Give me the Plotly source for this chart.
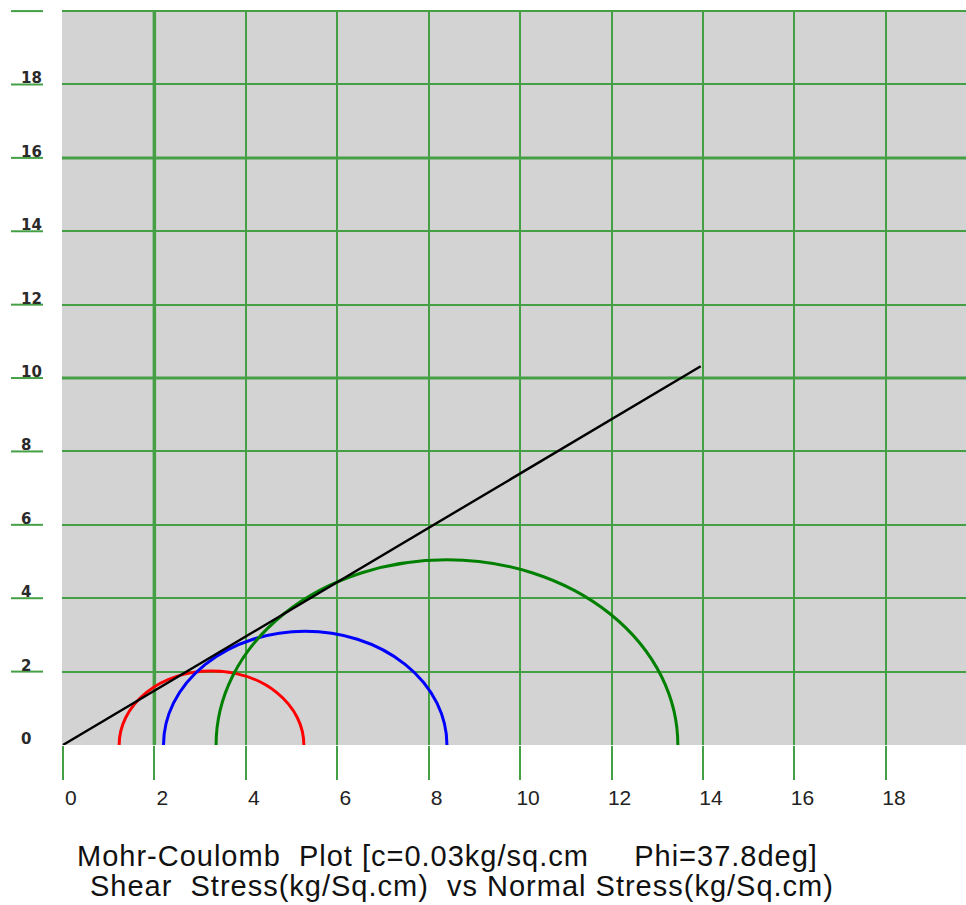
import plotly.graph_objects as go

# ---- data ----
circle_names = ["red", "blue", "green"]
circle_centers = [3.25, 5.3, 8.4]
circle_radii = [2.02, 3.1, 5.05]
circle_colors = ["#ff0000", "#0000ff", "#008000"]

envelope_x = [0, 13.95]
envelope_y = [0, 10.32]

x_ticks = [0, 2, 4, 6, 8, 10, 12, 14, 16, 18]
y_ticks = [0, 2, 4, 6, 8, 10, 12, 14, 16, 18]
y_grid = [2, 4, 6, 8, 10, 12, 14, 16, 18, 20]
y_dashes = [2, 4, 6, 8, 10, 12, 14, 16, 18, 20]
thick_x = [2]
thick_y = [10, 16]

title_line1 = "Mohr-Coulomb&nbsp;&nbsp;Plot [c=0.03kg/sq.cm&nbsp;&nbsp;&nbsp;&nbsp;&nbsp;Phi=37.8deg]"
title_line2 = "Shear&nbsp;&nbsp;Stress(kg/Sq.cm)&nbsp;&nbsp;vs Normal&nbsp;Stress(kg/Sq.cm)"

GRID = "#45a045"
W, H = 966, 905
ML, MR, MT, MB = 62, 0, 10, 160
PW = W - ML - MR
PH = H - MT - MB

fig = go.Figure()

fig.add_trace(go.Scatter(x=envelope_x, y=envelope_y, mode="lines",
                         line=dict(color="black", width=2.4), showlegend=False,
                         hoverinfo="skip"))

shapes = []
for xv in thick_x:
    shapes.append(dict(type="line", xref="x", yref="paper", x0=xv, x1=xv,
                       y0=0, y1=1, line=dict(color=GRID, width=3.5), layer="below"))
for yv in thick_y:
    shapes.append(dict(type="line", xref="paper", yref="y", x0=0, x1=1,
                       y0=yv, y1=yv, line=dict(color=GRID, width=3), layer="below"))

for c, r, col in zip(circle_centers, circle_radii, circle_colors):
    shapes.append(dict(type="circle", xref="x", yref="y",
                       x0=c - r, x1=c + r, y0=-r, y1=r,
                       line=dict(color=col, width=3), layer="between"))

for yv in y_dashes:
    shapes.append(dict(type="line", xref="paper", yref="y",
                       x0=(11 - ML) / PW, x1=(43 - ML) / PW, y0=yv, y1=yv,
                       line=dict(color=GRID, width=2)))

annotations = []
for yv in y_ticks:
    annotations.append(dict(xref="paper", yref="y", x=(19 - ML) / PW, y=yv,
                            xanchor="left", yanchor="middle", yshift=6,
                            text=str(yv), showarrow=False,
                            font=dict(family="DejaVu Sans", size=15, weight="bold",
                                      color="#2a2a2a")))

SP = "<span style='letter-spacing:1px'>%s</span>"
annotations.append(dict(xref="paper", yref="paper", x=(75 - ML) / PW,
                        y=(MT + PH - 856) / PH, xanchor="left", yanchor="middle",
                        text=SP % title_line1, showarrow=False,
                        font=dict(family="Liberation Sans, Arial", size=29, color="#111")))
annotations.append(dict(xref="paper", yref="paper", x=(88 - ML) / PW,
                        y=(MT + PH - 886) / PH, xanchor="left", yanchor="middle",
                        text=SP % title_line2, showarrow=False,
                        font=dict(family="Liberation Sans, Arial", size=29, color="#111")))

fig.update_layout(
    width=W, height=H,
    margin=dict(l=ML, r=MR, t=MT, b=MB, pad=0),
    paper_bgcolor="white", plot_bgcolor="#d3d3d3",
    showlegend=False,
    shapes=shapes, annotations=annotations,
    xaxis=dict(range=[-0.02, (PW / 45.72) - 0.02], tickvals=x_ticks,
               ticktext=[str(v) for v in x_ticks],
               showgrid=True, gridcolor=GRID, gridwidth=2,
               zeroline=False, showline=False,
               ticks="outside", ticklen=34, tickwidth=2, tickcolor=GRID,
               ticklabelshift=8,
               tickfont=dict(family="Liberation Sans, Arial", size=21, color="#222"),
               fixedrange=True),
    yaxis=dict(range=[0, 20.03], tickvals=y_grid, showticklabels=False,
               showgrid=True, gridcolor=GRID, gridwidth=2,
               zeroline=False, showline=False, ticks="",
               fixedrange=True),
)

fig.write_html("out.html")
